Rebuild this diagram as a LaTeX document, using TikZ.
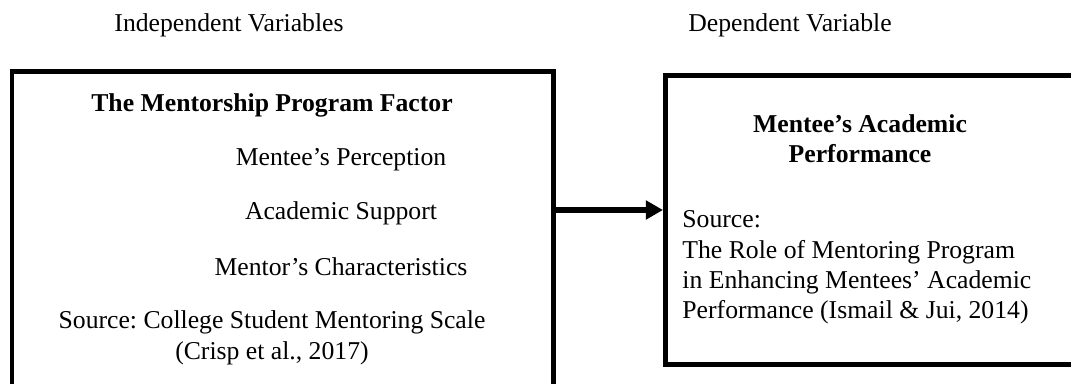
\documentclass[tikz,border=0pt]{standalone}
\usepackage{fontspec}
\setmainfont{Liberation Serif}
\usepackage{tikz}
\usetikzlibrary{arrows.meta}

\begin{document}
\begin{tikzpicture}[x=0.467pt,y=0.467pt]
	\tikzstyle{every node}=[font=\fontsize{12}{14.2}\selectfont\frenchspacing, inner sep=0pt];
	\tikzstyle{varbox}=[draw, rectangle, line width=2.2pt, anchor=north west];
	\tikzstyle{arrowline}=[line width=2.6pt, -{Triangle[length=8pt,width=8.5pt]}];

	\clip (0,0) rectangle (1071,383);

	%Headings
	\node (indep) at (229,358) {Independent Variables};
	\node (dep) at (790,358) {Dependent Variable};

	%Boxes
	\node[varbox, minimum width=252.9pt, minimum height=165.1pt] (lbox) at (9.5,313.5) {};
	\node[varbox, minimum width=201.7pt, minimum height=135pt] (rbox) at (663,310) {};

	%Independent side
	\node (title) at (272,278) {\textbf{The Mentorship Program Factor}};
	\node (perc) at (341,223) {Mentee’s Perception};
	\node (supp) at (341,170) {Academic Support};
	\node (chars) at (341,116) {Mentor’s Characteristics};
	\node[align=center] (lsrc) at (272,45) {Source: College Student Mentoring Scale\\(Crisp et al., 2017)};

	%Dependent side
	\node[align=center] (rtitle) at (860,244) {\textbf{Mentee’s Academic}\\\textbf{Performance}};
	\node[align=left, anchor=west] (rsrc) at (682,115.5) {Source:\\The Role of Mentoring Program\\in Enhancing Mentees’ Academic\\Performance (Ismail \& Jui, 2014)};

	%Arrow
	\coordinate (arr) at (600,173);
	\draw[arrowline] (lbox.east |- arr) -- (rbox.west |- arr);

\end{tikzpicture}
\end{document}
